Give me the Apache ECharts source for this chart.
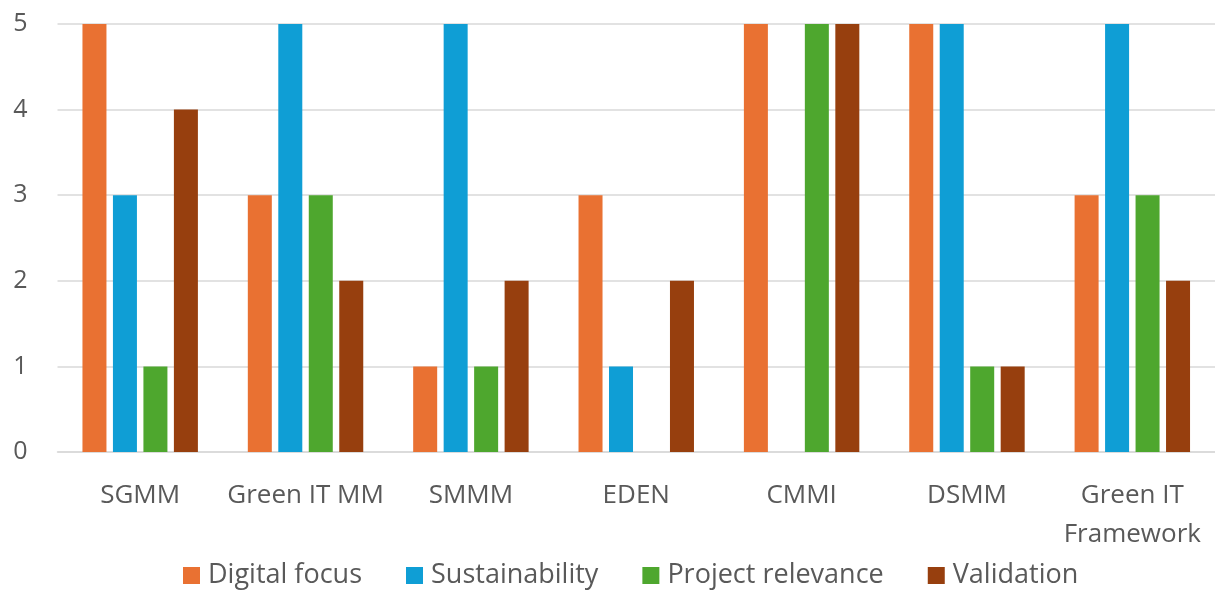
<!DOCTYPE html>
<html>
<head>
<meta charset="utf-8">
<script src="https://cdn.jsdelivr.net/npm/echarts@6/dist/echarts.min.js"></script>
<style>
  html, body { margin: 0; padding: 0; background: #fff; }
  #chart { width: 1215px; height: 595px; }
</style>
</head>
<body>
<div id="chart"></div>
<script>
// Maturity models compared across four criteria (score 0–5)
const categories = ['SGMM', 'Green IT MM', 'SMMM', 'EDEN', 'CMMI', 'DSMM', 'Green IT\nFramework'];
const digitalFocus     = [5, 3, 1, 3, 5, 5, 3];
const sustainability   = [3, 5, 5, 1, 0, 5, 5];
const projectRelevance = [1, 3, 1, 0, 5, 1, 3];
const validation       = [4, 2, 2, 2, 5, 1, 2];
const seriesNames  = ['Digital focus', 'Sustainability', 'Project relevance', 'Validation'];
const seriesColors = ['#E97132', '#0F9ED5', '#4EA72E', '#973F0E'];

const FONT = '"Open Sans", "Noto Sans", sans-serif';
const TEXT = '#595959';

const seriesData = [digitalFocus, sustainability, projectRelevance, validation];

const chart = echarts.init(document.getElementById('chart'), null, { renderer: 'canvas' });
chart.setOption({
  animation: false,
  backgroundColor: '#ffffff',
  textStyle: { fontFamily: FONT },
  color: seriesColors,
  grid: { left: 57.5, right: 0, top: 24, bottom: 143, containLabel: false },
  legend: {
    bottom: 1,
    left: 178,
    itemWidth: 17,
    itemHeight: 17,
    itemGap: 44,
    icon: 'rect',
    textStyle: { fontFamily: FONT, fontSize: 27, color: TEXT, padding: [0, 0, 0, 3] },
    data: seriesNames
  },
  xAxis: {
    type: 'category',
    data: categories,
    axisLine: { lineStyle: { color: '#D9D9D9', width: 1.5 } },
    axisTick: { show: false },
    axisLabel: { fontFamily: FONT, fontSize: 26, color: TEXT, margin: 24, lineHeight: 39, interval: 0 }
  },
  yAxis: {
    type: 'value',
    min: 0,
    max: 5,
    interval: 1,
    axisLine: { show: false },
    axisTick: { show: false },
    splitLine: { lineStyle: { color: '#D9D9D9', width: 1.5 } },
    axisLabel: { fontFamily: FONT, fontSize: 25, color: TEXT, margin: 30 }
  },
  series: seriesNames.map((name, i) => ({
    name: name,
    type: 'bar',
    data: seriesData[i],
    barWidth: 24,
    barGap: '27%',
    itemStyle: { color: seriesColors[i] }
  }))
});
</script>
</body>
</html>
